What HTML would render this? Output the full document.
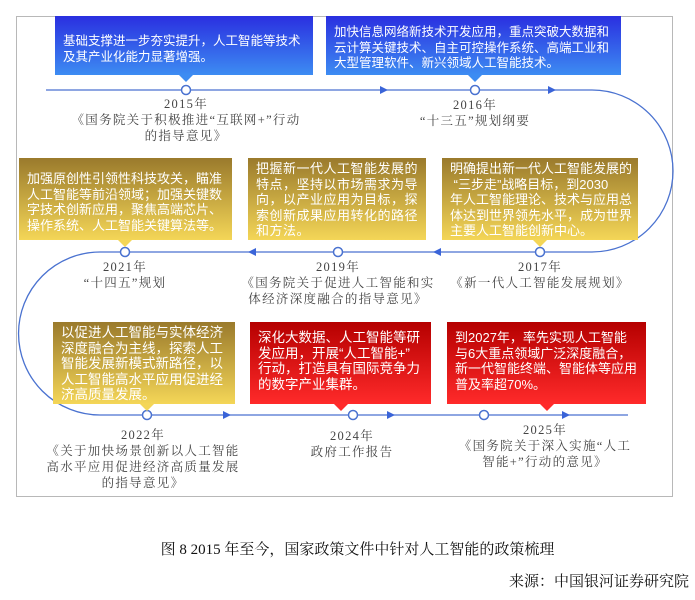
<!DOCTYPE html>
<html><head><meta charset="utf-8"><style>
body{margin:0;width:695px;height:600px;background:#fff;position:relative;overflow:hidden;font-family:"Liberation Sans","Noto Sans CJK SC",sans-serif}
.frame{position:absolute;left:16px;top:16px;width:657px;height:481px;border:1px solid #b8b8b8;box-sizing:border-box}
.box{position:absolute;color:#fff;font-size:12.5px;line-height:15.6px;box-sizing:border-box;padding:6px 8px;white-space:nowrap;overflow:hidden}
.b{background:linear-gradient(#2a2fe0,#3d8cf2)}
.g{background:linear-gradient(#9a7a2c,#f4d657)}
.r{background:linear-gradient(#b50000,#ff2a2a)}
.tri{position:absolute;width:0;height:0;border-left:7px solid transparent;border-right:7px solid transparent;border-top:7px solid}
.lab{position:absolute;text-align:center;color:#444;font-family:"Liberation Serif","Noto Serif CJK SC",serif;font-size:12.5px;line-height:16px;letter-spacing:1.3px;transform:translateX(-50%);white-space:nowrap}
</style></head><body>
<div class="frame"></div>
<svg width="695" height="600" style="position:absolute;left:0;top:0">
<g fill="none" stroke="#4a72d0" stroke-width="1.3">
<path d="M46 90 H592 A81 81 0 0 1 592 252 H100 A81.5 81.5 0 0 0 100 415 H628"/>
</g>
<g fill="#3a64d8">
<path d="M380 86 L388 90 L380 94Z"/><path d="M548 86 L556 90 L548 94Z"/>
<path d="M256 248 L248 252 L256 256Z"/><path d="M441 248 L433 252 L441 256Z"/>
<path d="M223 411 L231 415 L223 419Z"/><path d="M387 411 L395 415 L387 419Z"/><path d="M562 411 L570 415 L562 419Z"/>
</g>
<g fill="#fff" stroke="#4a72d0" stroke-width="1.5">
<circle cx="186" cy="90" r="4.5"/><circle cx="475" cy="90" r="4.5"/>
<circle cx="125" cy="252" r="4.5"/><circle cx="338" cy="252" r="4.5"/><circle cx="540" cy="252" r="4.5"/>
<circle cx="147" cy="415" r="4.5"/><circle cx="353" cy="415" r="4.5"/><circle cx="484" cy="415" r="4.5"/>
</g>
</svg>
<div class="box b" style="left:55px;top:16px;width:258px;height:59px;padding-top:18px">基础支撑进一步夯实提升，人工智能等技术<br>及其产业化能力显著增强。</div>
<div class="tri" style="left:179px;top:75px;border-top-color:#3d8cf2"></div>
<div class="box b" style="left:326px;top:16px;width:295px;height:59px;padding-top:9px">加快信息网络新技术开发应用，重点突破大数据和<br>云计算关键技术、自主可控操作系统、高端工业和<br>大型管理软件、新兴领域人工智能技术。</div>
<div class="tri" style="left:468px;top:75px;border-top-color:#3d8cf2"></div>

<div class="box g" style="left:19px;top:158px;width:213px;height:82px;padding-top:13px;font-size:13px">加强原创性引领性科技攻关，瞄准<br>人工智能等前沿领域；加强关键数<br>字技术创新应用，聚焦高端芯片、<br>操作系统、人工智能关键算法等。</div>
<div class="tri" style="left:118px;top:240px;border-top-color:#f4d657"></div>
<div class="box g" style="left:248px;top:158px;width:178px;height:82px;padding-top:3px;font-size:13px;letter-spacing:.5px">把握新一代人工智能发展的<br>特点，坚持以市场需求为导<br>向，以产业应用为目标，探<br>索创新成果应用转化的路径<br>和方法。</div>
<div class="box g" style="left:442px;top:158px;width:196px;height:82px;padding-top:3px;font-size:13px">明确提出新一代人工智能发展的<br>&nbsp;“三步走”战略目标，到2030<br>年人工智能理论、技术与应用总<br>体达到世界领先水平，成为世界<br>主要人工智能创新中心。</div>
<div class="tri" style="left:533px;top:240px;border-top-color:#f4d657"></div>

<div class="box g" style="left:53px;top:322px;width:182px;height:82px;padding-top:3px;font-size:13.5px">以促进人工智能与实体经济<br>深度融合为主线，探索人工<br>智能发展新模式新路径，以<br>人工智能高水平应用促进经<br>济高质量发展。</div>
<div class="tri" style="left:140px;top:404px;border-top-color:#f4d657"></div>
<div class="box r" style="left:250px;top:322px;width:181px;height:82px;padding-top:8px;font-size:13.5px">深化大数据、人工智能等研<br>发应用，开展“人工智能+”<br>行动，打造具有国际竞争力<br>的数字产业集群。</div>
<div class="tri" style="left:334px;top:404px;border-top-color:#ff2a2a"></div>
<div class="box r" style="left:447px;top:322px;width:199px;height:82px;padding-top:8px;font-size:13px">到2027年，率先实现人工智能<br>与6大重点领域广泛深度融合，<br>新一代智能终端、智能体等应用<br>普及率超70%。</div>
<div class="tri" style="left:540px;top:404px;border-top-color:#ff2a2a"></div>

<div class="lab" style="left:186px;top:96px">2015年<br>《国务院关于积极推进“互联网+”行动<br>的指导意见》</div>
<div class="lab" style="left:475px;top:97px">2016年<br>“十三五”规划纲要</div>
<div class="lab" style="left:125px;top:259px">2021年<br>“十四五”规划</div>
<div class="lab" style="left:338px;top:259px">2019年<br>《国务院关于促进人工智能和实<br>体经济深度融合的指导意见》</div>
<div class="lab" style="left:540px;top:259px">2017年<br>《新一代人工智能发展规划》</div>
<div class="lab" style="left:143px;top:427px">2022年<br>《关于加快场景创新以人工智能<br>高水平应用促进经济高质量发展<br>的指导意见》</div>
<div class="lab" style="left:352px;top:428px">2024年<br>政府工作报告</div>
<div class="lab" style="left:545px;top:422px">2025年<br>《国务院关于深入实施“人工<br>智能+”行动的意见》</div>

<div style="position:absolute;left:0;width:695px;top:538px;text-align:center;font-family:'Liberation Serif','Noto Serif CJK SC',serif;font-size:15px;color:#111;padding-left:20px;box-sizing:border-box">图 8 2015 年至今，国家政策文件中针对人工智能的政策梳理</div>
<div style="position:absolute;right:6px;top:570px;font-family:'Liberation Serif','Noto Serif CJK SC',serif;font-size:15px;color:#111">来源：中国银河证券研究院</div>
</body></html>
